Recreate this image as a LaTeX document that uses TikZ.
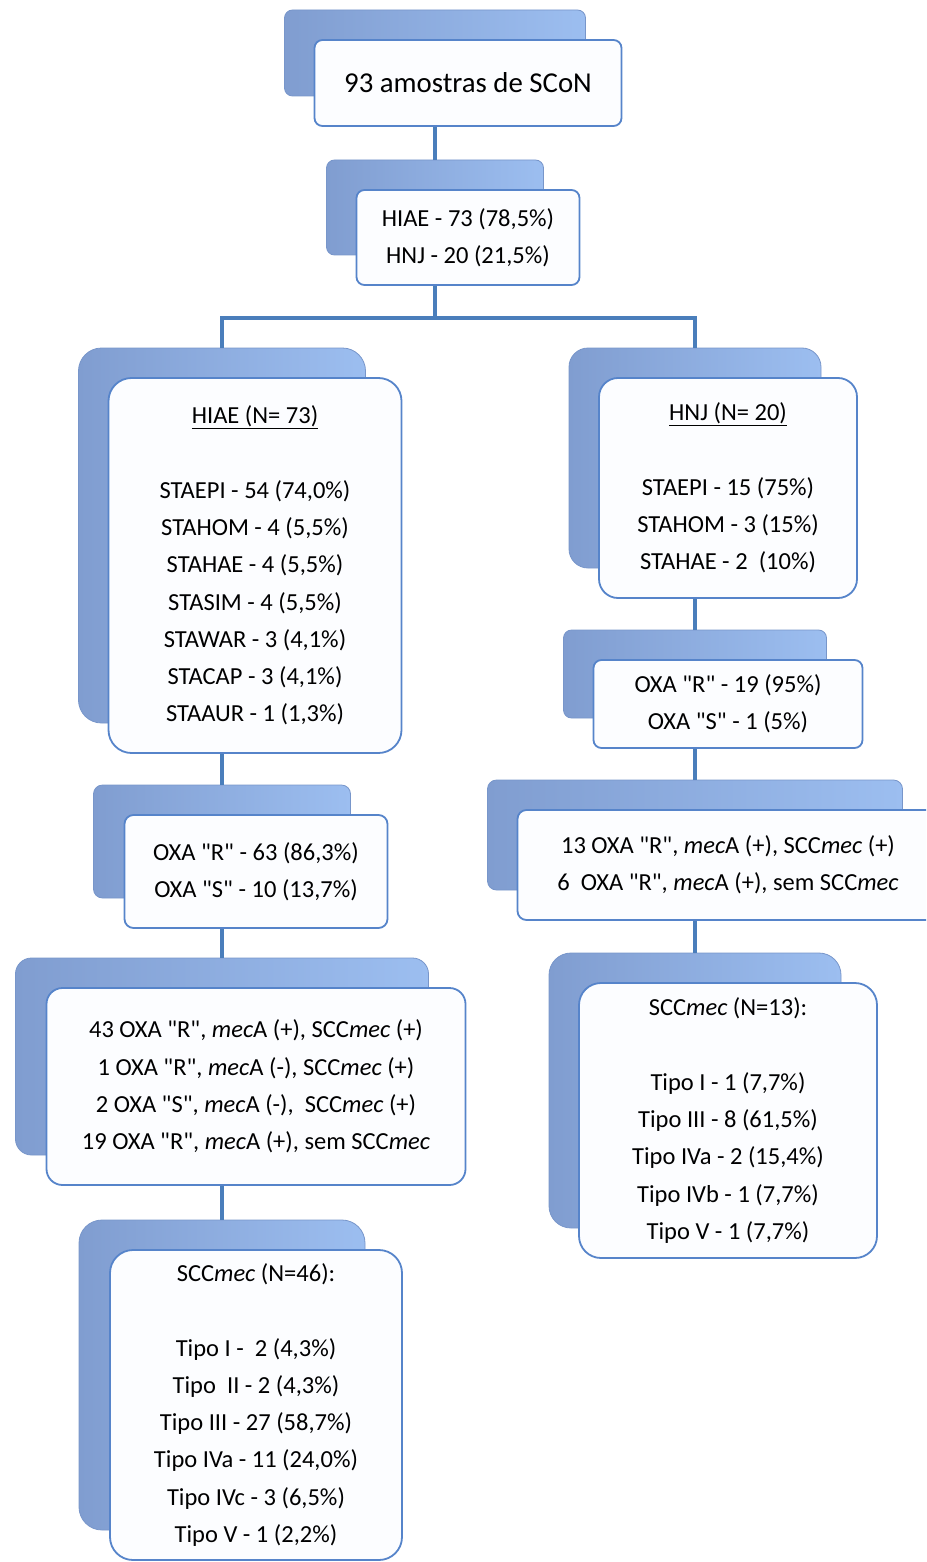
\documentclass[tikz,border=0pt]{standalone}
\usepackage{fontspec}
\newfontfamily\carlito{Carlito}

\definecolor{linkblue}{RGB}{74,126,187}
\definecolor{backleft}{RGB}{128,157,208}
\definecolor{backmain}{RGB}{140,168,216}
\definecolor{backright}{RGB}{156,190,240}
\definecolor{backedge}{RGB}{120,150,202}
\definecolor{frontline}{RGB}{86,132,202}
\definecolor{frontfill}{RGB}{252,253,255}

\begin{document}
\begin{tikzpicture}[x=1pt,y=-1pt,
    backbox/.style={rectangle,inner sep=0pt,left color=backleft,middle color=backmain,right color=backright,
        draw=backedge,line width=0.8pt},
    frontbox/.style={rectangle,inner sep=0pt,fill=frontfill,draw=frontline,line width=1.8pt,align=center,
        font=\carlito\fontsize{24.5}{37.3}\selectfont},
    link/.style={draw=linkblue,line width=3.6pt}]

    \useasboundingbox (0,0) rectangle (926,1562);
    \clip (0,0) rectangle (926,1562);

    % back boxes
    \node (topB) at (435,53) [backbox,minimum width=301,minimum height=86,rounded corners=8] {};
    \node (hospB) at (435,207.5) [backbox,minimum width=217,minimum height=95,rounded corners=8] {};
    \node (hiaeB) at (222,535.5) [backbox,minimum width=287,minimum height=375,rounded corners=23] {};
    \node (hnjB) at (695,458) [backbox,minimum width=252,minimum height=220,rounded corners=19] {};
    \node (oxaLB) at (222,841.5) [backbox,minimum width=257,minimum height=113,rounded corners=9] {};
    \node (mecLB) at (222,1056.5) [backbox,minimum width=413,minimum height=197,rounded corners=16] {};
    \node (sccLB) at (222,1375) [backbox,minimum width=286,minimum height=310,rounded corners=23] {};
    \node (oxaRB) at (695,674) [backbox,minimum width=263,minimum height=88,rounded corners=8] {};
    \node (mecRB) at (695,835) [backbox,minimum width=415,minimum height=110,rounded corners=9] {};
    \node (sccRB) at (695,1090.5) [backbox,minimum width=292,minimum height=275,rounded corners=22] {};

    % connectors
    \coordinate (split) at (435,318);
    \draw [link] (topB.south) -- (hospB.north);
    \draw [link] (hospB.south) -- (split);
    \draw [link] (hiaeB.north) |- (split) -| (hnjB.north);
    \draw [link] (hiaeB.south) -- (oxaLB.north) (oxaLB.south) -- (mecLB.north) (mecLB.south) -- (sccLB.north);
    \draw [link] (hnjB.south) -- (oxaRB.north) (oxaRB.south) -- (mecRB.north) (mecRB.south) -- (sccRB.north);

    % front boxes
    \node (top) at (468,83) [frontbox,minimum width=307,minimum height=86,rounded corners=8,
        font=\carlito\fontsize{28.8}{34}\selectfont] {93 amostras de SCoN};
    \node (hosp) at (468,237.5) [frontbox,minimum width=223,minimum height=95,rounded corners=8]
        {HIAE - 73 (78,5\%)\\HNJ - 20 (21,5\%)};
    \node (hiae) at (255,565.5) [frontbox,minimum width=293,minimum height=375,rounded corners=23]
        {\underline{HIAE (N= 73)}\\[37.3pt]STAEPI - 54 (74,0\%)\\STAHOM - 4 (5,5\%)\\STAHAE - 4 (5,5\%)\\
         STASIM - 4 (5,5\%)\\STAWAR - 3 (4,1\%)\\STACAP - 3 (4,1\%)\\STAAUR - 1 (1,3\%)};
    \node (hnj) at (728,488) [frontbox,minimum width=258,minimum height=220,rounded corners=19]
        {\underline{HNJ (N= 20)}\\[37.3pt]STAEPI - 15 (75\%)\\STAHOM - 3 (15\%)\\STAHAE - 2\ \ (10\%)};
    \node (oxaL) at (256,871.5) [frontbox,minimum width=263,minimum height=113,rounded corners=9]
        {OXA "R" - 63 (86,3\%)\\OXA "S" - 10 (13,7\%)};
    \node (mecL) at (256,1086.5) [frontbox,minimum width=419,minimum height=197,rounded corners=16]
        {43 OXA "R", \textit{mec}A (+), SCC\textit{mec} (+)\\1 OXA "R", \textit{mec}A (-), SCC\textit{mec} (+)\\
         2 OXA "S", \textit{mec}A (-),\ \ SCC\textit{mec} (+)\\19 OXA "R", \textit{mec}A (+), sem SCC\textit{mec}};
    \node (sccL) at (256,1405) [frontbox,minimum width=292,minimum height=310,rounded corners=23]
        {SCC\textit{mec} (N=46):\\[37.3pt]Tipo I -\ \ 2 (4,3\%)\\Tipo\ \ II - 2 (4,3\%)\\Tipo III - 27 (58,7\%)\\
         Tipo IVa - 11 (24,0\%)\\Tipo IVc - 3 (6,5\%)\\Tipo V - 1 (2,2\%)};
    \node (oxaR) at (728,704) [frontbox,minimum width=269,minimum height=88,rounded corners=8]
        {OXA "R" - 19 (95\%)\\OXA "S" - 1 (5\%)};
    \node (mecR) at (728,865) [frontbox,minimum width=421,minimum height=110,rounded corners=9]
        {13 OXA "R", \textit{mec}A (+), SCC\textit{mec} (+)\\6\ \ OXA "R", \textit{mec}A (+), sem SCC\textit{mec}};
    \node (sccR) at (728,1120.5) [frontbox,minimum width=298,minimum height=275,rounded corners=22]
        {SCC\textit{mec} (N=13):\\[37.3pt]Tipo I - 1 (7,7\%)\\Tipo III - 8 (61,5\%)\\Tipo IVa - 2 (15,4\%)\\
         Tipo IVb - 1 (7,7\%)\\Tipo V - 1 (7,7\%)};

\end{tikzpicture}
\end{document}
